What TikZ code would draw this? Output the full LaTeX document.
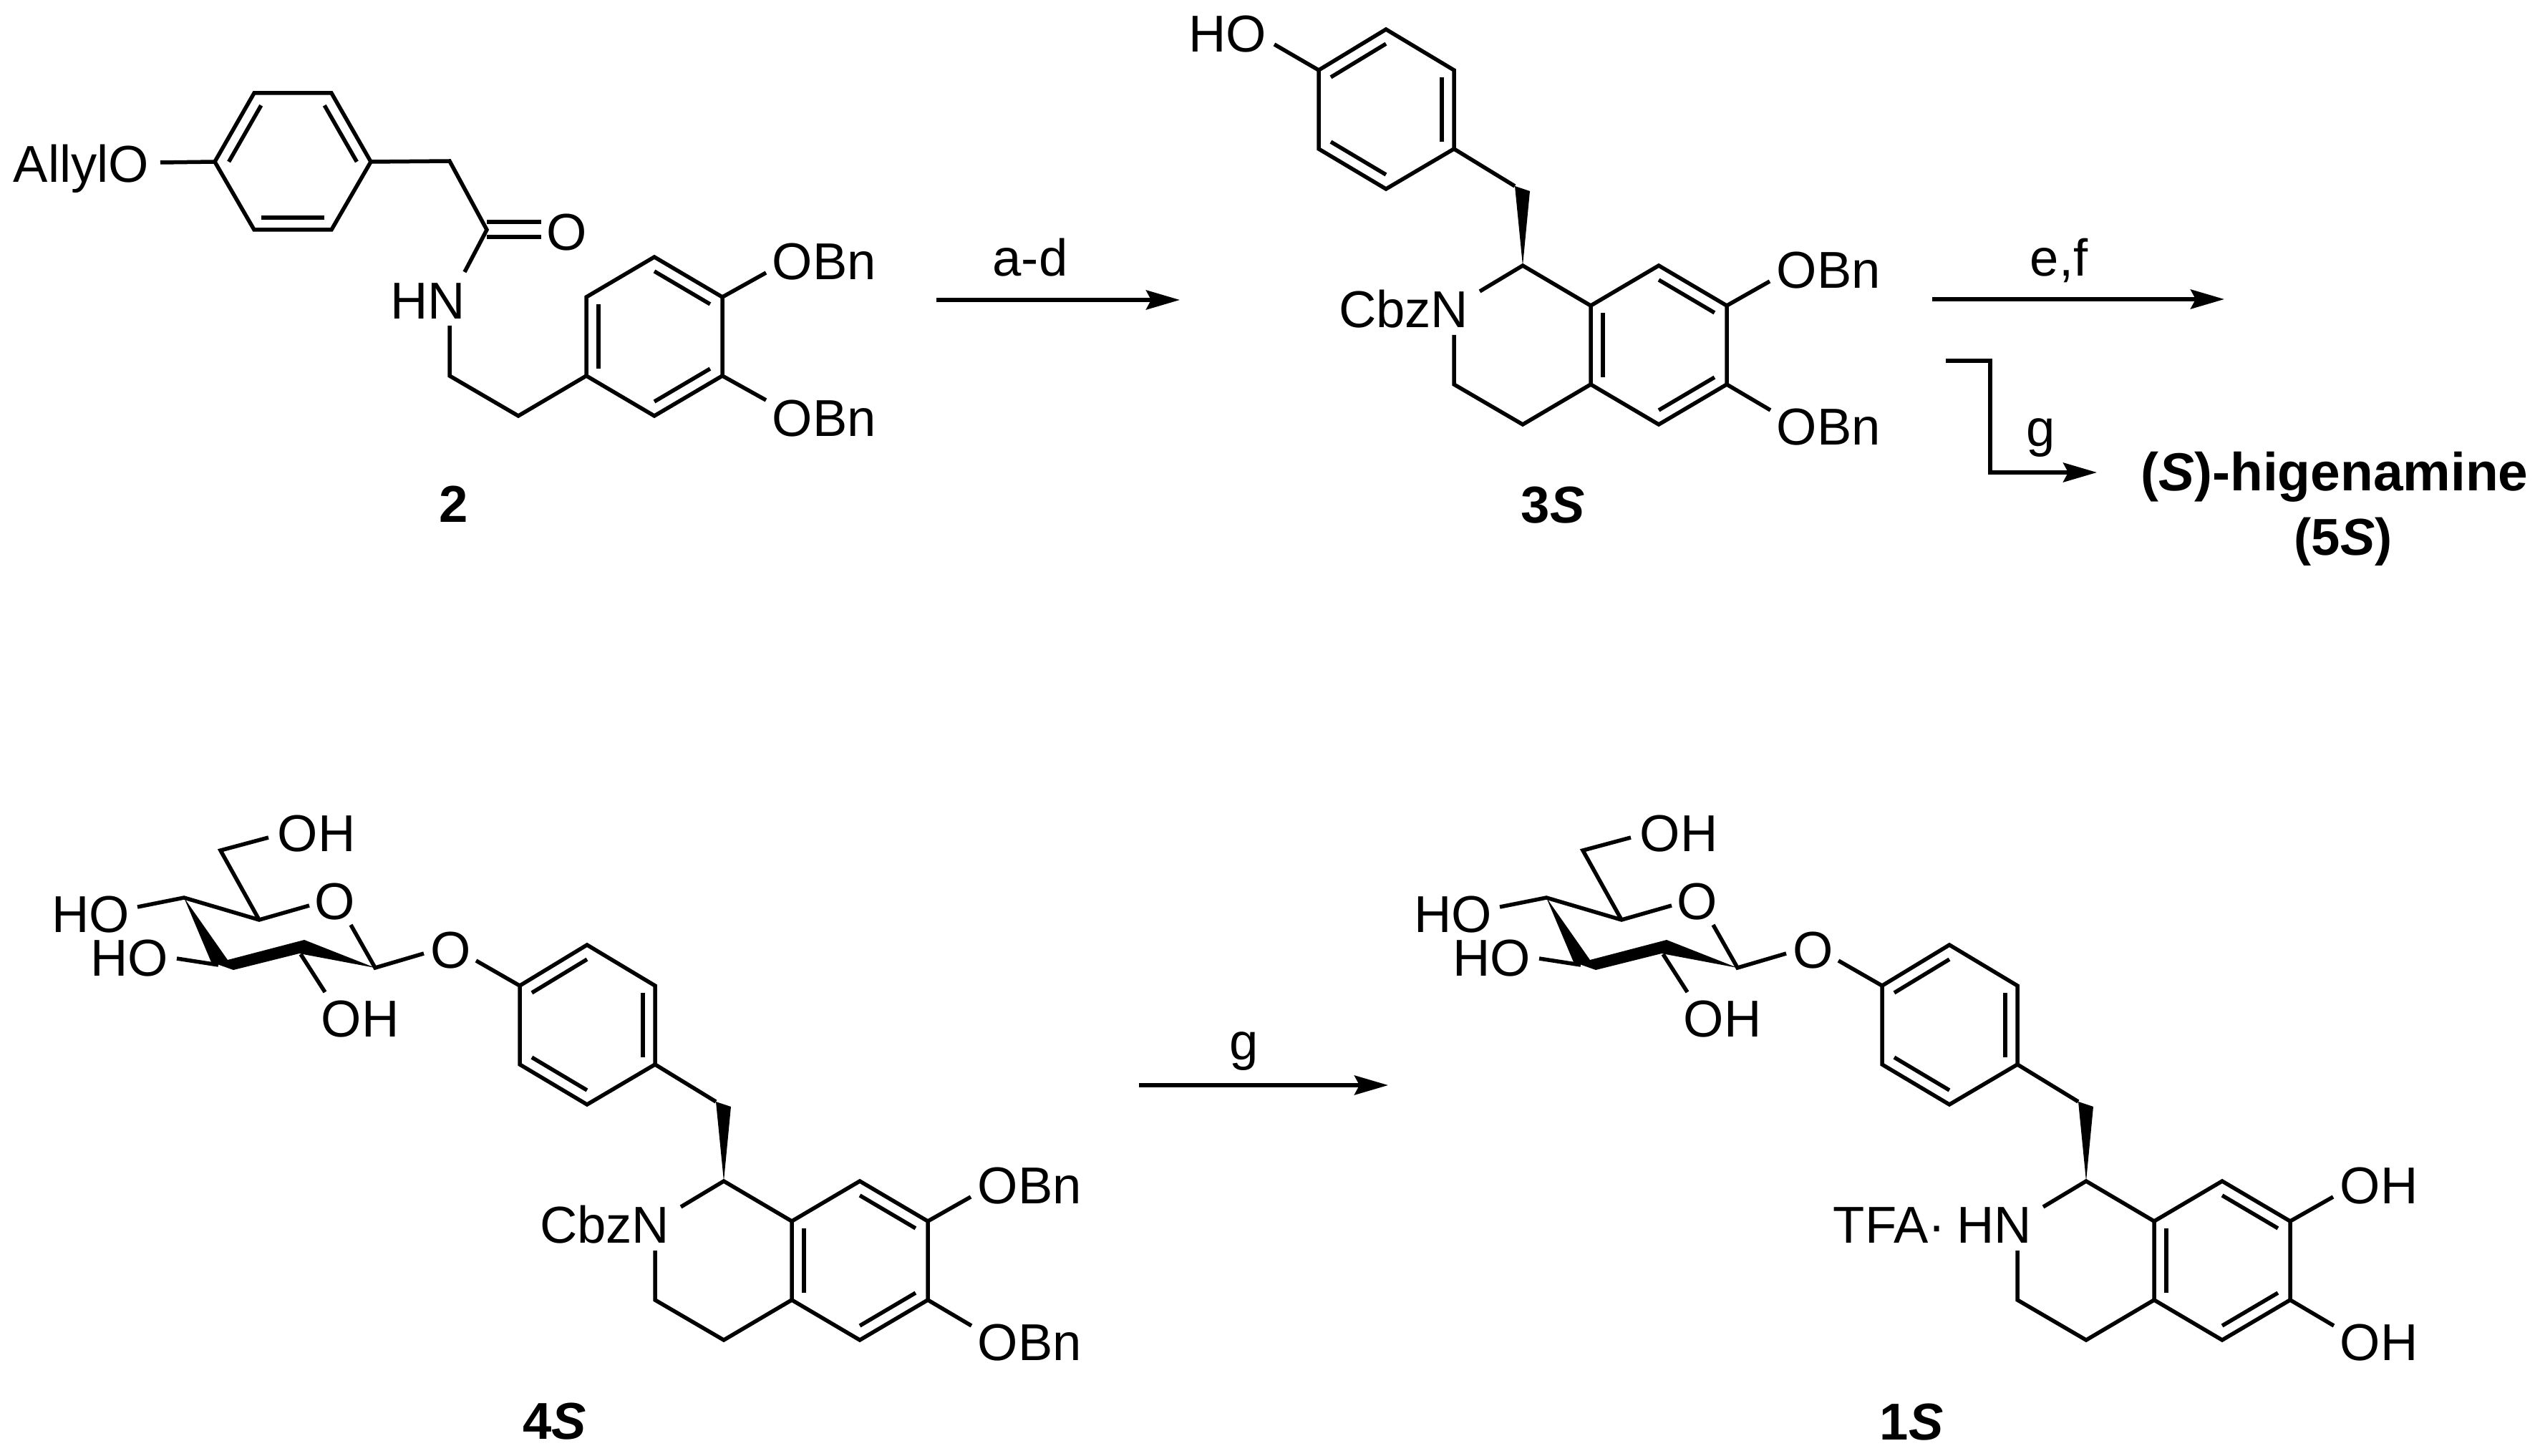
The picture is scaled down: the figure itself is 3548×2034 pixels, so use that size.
\documentclass[tikz,border=0pt]{standalone}
\usepackage{fontspec}
\setmainfont{Liberation Sans}
\usetikzlibrary{arrows.meta, calc}

\tikzset{
  bond/.style={line width=.055cm, line join=miter},
  rxn/.style={line width=.055cm, -{Stealth[length=.47cm, width=.27cm, inset=.07cm]}},
  atomlab/.style={font=\fontsize{20.6}{24}\selectfont, inner sep=0pt, text height=.52cm, text depth=0pt},
  cmpd/.style={atomlab, font=\fontsize{20.6}{24}\selectfont\bfseries}
}
\newcommand{\inbond}[3]{\draw[bond] ($(#1)!.18!(#3)$) -- ($(#2)!.18!(#3)$);}

\begin{document}
\begin{tikzpicture}[x=.01cm, y=-.01cm]
  \useasboundingbox (0,0) rectangle (3548,2034);

  % amide 2
  \foreach \n/\x/\y in {a1/355/130, a2/463/130, a3/518/226, a4/463/321, a5/355/321, a6/300/226, ac/409/226,
    o1/224/227, ch1/628/225, co/680/321, coa/680/310, cob/680/331, oa/756/310, ob/756/331, nt/649/380, nb/628/455,
    ch2/628/525, ch3/724/581, b1/819/415, b2/914/359, b3/1009/415, b4/1009/525, b5/914/581, b6/819/525, bc/914/470,
    e1/1070/381, e2/1070/559}
    \coordinate (\n) at (\x,\y);
  \node[atomlab, anchor=west] (allyl) at (18,228) {AllylO};
  \node[atomlab] (oket) at (792,323) {O};
  \node[atomlab, anchor=east] (hn) at (651,419) {HN};
  \node[atomlab, anchor=west] (bn1) at (1078,364) {OBn};
  \node[atomlab, anchor=west] (bn2) at (1078,583) {OBn};
  \node[cmpd] (lab2) at (634,703) {2};
  \draw[bond] (a1) -- (a2) -- (a3) -- (a4) -- (a5) -- (a6) -- cycle;
  \inbond{a1}{a6}{ac}
  \inbond{a2}{a3}{ac}
  \inbond{a4}{a5}{ac}
  \draw[bond] (o1) -- (a6);
  \draw[bond] (a3) -- (ch1) -- (co) -- (nt);
  \draw[bond] (coa) -- (oa);
  \draw[bond] (cob) -- (ob);
  \draw[bond] (nb) -- (ch2) -- (ch3) -- (b6);
  \draw[bond] (b1) -- (b2) -- (b3) -- (b4) -- (b5) -- (b6) -- cycle;
  \inbond{b1}{b6}{bc}
  \inbond{b2}{b3}{bc}
  \inbond{b4}{b5}{bc}
  \draw[bond] (b3) -- (e1);
  \draw[bond] (b4) -- (e2);

  % benzylisoquinoline, three times
  \foreach \pre/\dx/\dy/\sub/\nlab in {t/1116/-1279/OBn/CbzN, d/0/0/OBn/CbzN, e/1903/0/OH/TFA·\kern.16cm HN}{
    \begin{scope}[shift={(\dx,\dy)}]
      \foreach \n/\x/\y in {r1/820/1320, r2/915/1377, r3/915/1487, r4/820/1543, r5/726/1487, r6/726/1377, rc/820/1432,
        ch/1000/1539, chb/1021/1546, c1/1011/1650, p1/1106/1706, p2/1201/1650, p3/1296/1706, p4/1296/1816,
        p5/1201/1872, p6/1106/1816, pc/1201/1761, c4/1011/1872, c3/915/1816, nb/915/1747, nt/951/1686,
        s1/1356/1672, s2/1357/1852}
        \coordinate (\pre\n) at (\x,\y);
      \node[atomlab, anchor=east] (\pre nlab) at (936,1710) {\nlab};
      \node[atomlab, anchor=west] (\pre sub1) at (1365,1655) {\sub};
      \node[atomlab, anchor=west] (\pre sub2) at (1365,1874) {\sub};
      \draw[bond] (\pre r1) -- (\pre r2) -- (\pre r3) -- (\pre r4) -- (\pre r5) -- (\pre r6) -- cycle;
      \inbond{\pre r6}{\pre r1}{\pre rc}
      \inbond{\pre r2}{\pre r3}{\pre rc}
      \inbond{\pre r4}{\pre r5}{\pre rc}
      \draw[bond] (\pre r3) -- (\pre ch);
      \fill (\pre ch) -- (\pre chb) -- (\pre c1) -- cycle;
      \draw[bond] (\pre nt) -- (\pre c1) -- (\pre p1);
      \draw[bond] (\pre p1) -- (\pre p2) -- (\pre p3) -- (\pre p4) -- (\pre p5) -- (\pre p6) -- cycle;
      \inbond{\pre p2}{\pre p3}{\pre pc}
      \inbond{\pre p4}{\pre p5}{\pre pc}
      \inbond{\pre p6}{\pre p1}{\pre pc}
      \draw[bond] (\pre p6) -- (\pre c4) -- (\pre c3) -- (\pre nb);
      \draw[bond] (\pre p3) -- (\pre s1);
      \draw[bond] (\pre p4) -- (\pre s2);
    \end{scope}
  }

  % 3S phenol
  \coordinate (tho) at (1780,62);
  \node[atomlab, anchor=east] (hotop) at (1770,46) {HO};
  \draw[bond] (tho) -- (tr6);
  \node[cmpd] (lab3) at (2169,704) {3\textit{S}};

  % glucoside on 4S and 1S
  \foreach \pre/\dx in {d/0, e/1903}{
    \begin{scope}[xshift=\dx*.01cm]
      \foreach \n/\x/\y in {g1/524/1352, g2a/425/1313, g2b/418/1332, g3a/318/1341, g3b/295/1344, g3c/326/1355, g4/257/1254,
        g5/362/1285, g6/308/1188, o6/375/1170, ro1/432/1265, ro2/490/1292, ol1/592/1332, ol2/665/1342,
        o4/192/1267, o3/247/1339, c3o/305/1348, c2o/420/1333, o2/454/1386}
        \coordinate (\pre\n) at (\x,\y);
      \node[atomlab, anchor=west] (\pre oh6) at (387,1163) {OH};
      \node[atomlab] (\pre ring) at (468,1258) {O};
      \node[atomlab] (\pre link) at (630,1326) {O};
      \node[atomlab, anchor=east] (\pre oh4) at (182,1276) {HO};
      \node[atomlab, anchor=east] (\pre oh3) at (236,1337) {HO};
      \node[atomlab, anchor=west] (\pre oh2) at (448,1422) {OH};
      \fill (\pre g4) -- (\pre g3a) -- (\pre g2a) -- (\pre g1) -- (\pre g2b) -- (\pre g3c) -- (\pre g3b) -- cycle;
      \draw[bond] (\pre o6) -- (\pre g6) -- (\pre g5);
      \draw[bond] (\pre o4) -- (\pre g4) -- (\pre g5) -- (\pre ro1);
      \draw[bond] (\pre ro2) -- (\pre g1) -- (\pre ol1);
      \draw[bond] (\pre ol2) -- (\pre r6);
      \draw[bond] (\pre o3) -- (\pre c3o);
      \draw[bond] (\pre c2o) -- (\pre o2);
    \end{scope}
  }
  \node[cmpd] (lab4) at (775,1984) {4\textit{S}};
  \node[cmpd] (lab1) at (2670,1985) {1\textit{S}};

  % arrows
  \coordinate (ad1) at (1308,419);
  \coordinate (ad2) at (1648,419);
  \coordinate (ef1) at (2699,418);
  \coordinate (ef2) at (3107,418);
  \coordinate (gb1) at (2718,504);
  \coordinate (gb2) at (2780,504);
  \coordinate (gb3) at (2780,660);
  \coordinate (gb4) at (2929,660);
  \coordinate (gl1) at (1591,1516);
  \coordinate (gl2) at (1939,1516);
  \draw[rxn] (ad1) -- (ad2);
  \draw[rxn] (ef1) -- (ef2);
  \draw[rxn] (gb1) -- (gb2) -- (gb3) -- (gb4);
  \draw[rxn] (gl1) -- (gl2);
  \node[atomlab] (labad) at (1439,359) {a-d};
  \node[atomlab] (labef) at (2876,359) {e,f};
  \node[atomlab] (labg) at (2851,597) {g};
  \node[atomlab] (labgl) at (1738,1454) {g};
  \node[cmpd, font=\fontsize{21.3}{24}\selectfont\bfseries] (hig) at (3261,659) {(\textit{S})-higenamine};
  \node[cmpd] (lab5) at (3273,749) {(5\textit{S})};
\end{tikzpicture}
\end{document}
